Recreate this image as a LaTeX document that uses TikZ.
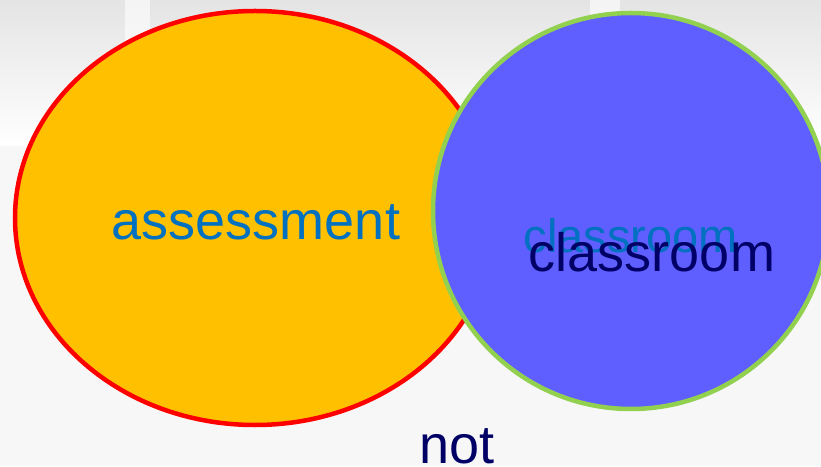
\documentclass[tikz,border=0pt]{standalone}
\usepackage{fontspec}
\setmainfont{Liberation Sans}
\usepackage{xcolor}
\usepackage{tikz}
\usetikzlibrary{shapes.geometric, positioning}
\definecolor{setorange}{HTML}{FFC000}
\definecolor{setred}{HTML}{FF0000}
\definecolor{setblue}{HTML}{5F5FFF}
\definecolor{setgreen}{HTML}{92D050}
\definecolor{labelblue}{HTML}{0070C0}
\definecolor{labelnavy}{HTML}{000066}
\definecolor{photogray}{HTML}{E4E4E4}
\tikzset{
    ellipsenode/.style = {draw, ellipse, line width=4.5pt, inner sep = 0em},
    circlenode/.style = {draw, circle, line width=4.5pt, inner sep = 0em},
    textnode/.style  = {draw=none, fill=none, rectangle, inner sep = 0em, font=\fontsize{54}{60}\selectfont},
    every text node part/.style={align=center}
}
\begin{document}
\begin{tikzpicture}[x=1pt, y=1pt]
    \useasboundingbox (0,0) rectangle (821,466);
    \clip (0,0) rectangle (821,466);
    % faint photo behind the sets
    \fill[top color=photogray, bottom color=white] (0,320) rectangle (821,466);
    \fill[white!70!photogray] (0,0) rectangle (821,320);
    \fill[white, opacity=0.6] (125,330) rectangle (150,466);
    \fill[white, opacity=0.6] (590,330) rectangle (620,466);

    \node [name=assess, ellipsenode, color=setred, fill=setorange,
        minimum width=480pt, minimum height=414pt] at (255,248) {};
    \node [name=class, circlenode, color=setgreen, fill=setblue,
        minimum size=396pt] at (631,255) {};

    \node [name=assesslabel, textnode, text=labelblue] at (256,244) {assessment};
    \node [name=classghost, textnode, text=labelblue, font=\fontsize{47}{52}\selectfont]
        at (631,230) {classroom};
    \node [name=classlabel, textnode, text=labelnavy, anchor=base] at (652,194) {classroom};
    \node [name=notlabel, textnode, text=labelnavy, anchor=base] at (457,3) {not};
\end{tikzpicture}
\end{document}
